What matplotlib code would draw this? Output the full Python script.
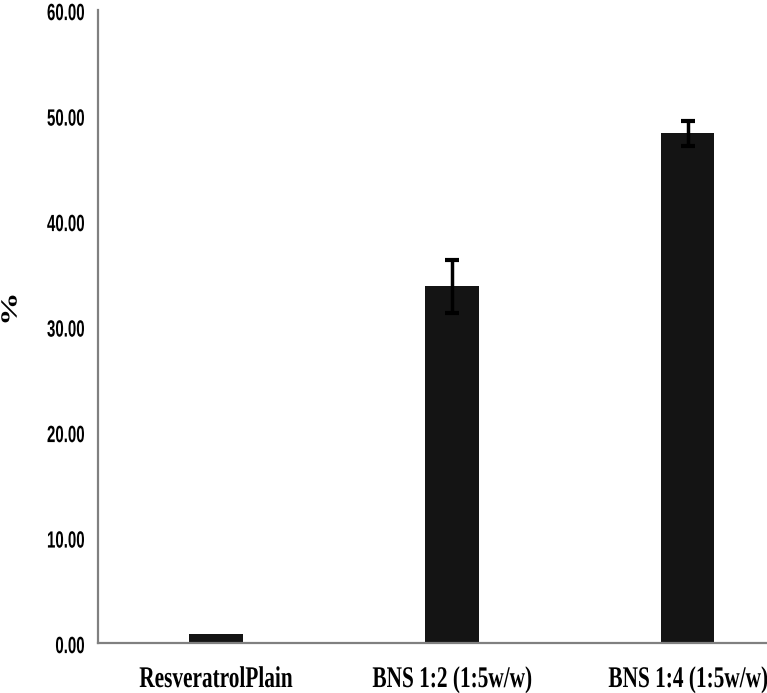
import matplotlib.pyplot as plt
import numpy as np
from matplotlib.textpath import TextPath
from matplotlib.patches import PathPatch
from matplotlib.font_manager import FontProperties
from matplotlib.transforms import Affine2D

categories = ["ResveratrolPlain", "BNS 1:2 (1:5w/w)", "BNS 1:4 (1:5w/w)"]
values = [0.85, 33.8, 48.3]
errors = [0.0, 2.5, 1.2]
yticks = [0, 10, 20, 30, 40, 50, 60]

W, H = 767, 693
dpi = 100
fig = plt.figure(dpi=dpi, figsize=(W / dpi, H / dpi))
ax = fig.add_axes([98 / W, 1 - 643 / H, 1 - 98 / W, (643 - 10) / H])


def squeezed(s, x, y, size, sx, family, ha="center", va="baseline", rot=0):
    # draw text as a path, squeezed horizontally; x, y in pixels from bottom left
    fp = FontProperties(family=family, weight="bold")
    tp = TextPath((0, 0), s, size=size, prop=fp)
    bb = tp.get_extents()
    ox = {"left": bb.x0, "center": (bb.x0 + bb.x1) / 2, "right": bb.x1}[ha]
    oy = {"baseline": 0, "center": (bb.y0 + bb.y1) / 2}[va]
    tr = Affine2D().translate(-ox, -oy).scale(sx, 1).rotate_deg(rot).translate(x, y)
    fig.patches.append(PathPatch(tr.transform_path(tp), facecolor="black",
                                 lw=0, transform=None, figure=fig))


x = np.arange(len(categories))
ax.bar(x, values, width=0.225, color="#141414", zorder=2)
ax.errorbar(x[1:], values[1:], yerr=errors[1:], fmt="none", ecolor="black",
            elinewidth=2.5, capsize=5, capthick=3, zorder=3)

ax.set_xlim(-0.5, 2.335)
ax.set_ylim(0, 60)
ax.set_yticks(yticks)
ax.set_yticklabels([])
ax.set_xticks(x)
ax.set_xticklabels([])
ax.tick_params(length=0)

for s in ["top", "right"]:
    ax.spines[s].set_visible(False)
for s in ["left", "bottom"]:
    ax.spines[s].set_color("#808080")
    ax.spines[s].set_linewidth(1.6)

for v in yticks:
    px, py = ax.transData.transform((-0.5, v))
    squeezed("%.2f" % v, 84, py - 2, 23.5, 0.64, "Liberation Sans", ha="right", va="center")

for i, c in enumerate(categories):
    px, py = ax.transData.transform((i, 0))
    squeezed(c, px, 6, 30, 0.71, "Liberation Serif", ha="center")

squeezed("%", 9, H - 309, 23, 1.45, "Liberation Serif", va="center", rot=90)

plt.savefig("out.png")
